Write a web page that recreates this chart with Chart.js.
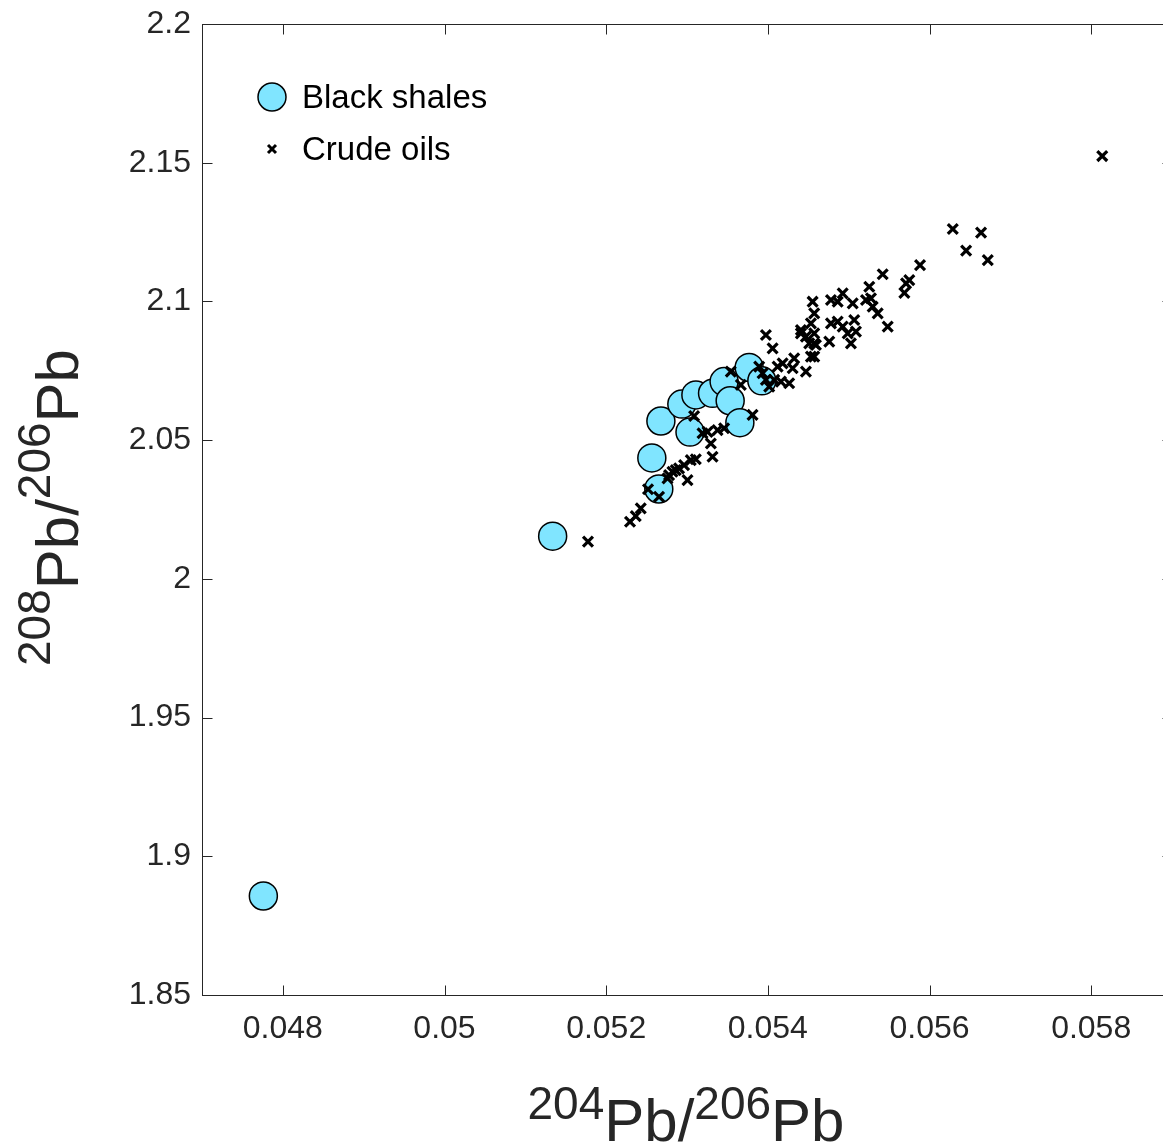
<!DOCTYPE html>
<html>
<head>
<meta charset="utf-8">
<script src="https://cdn.jsdelivr.net/npm/chart.js@4"></script>
<style>
  html, body { margin: 0; padding: 0; background: #fff; overflow: hidden; }
  #wrap { width: 1174px; height: 1148px; }
</style>
</head>
<body>
<div id="wrap"><canvas id="pbChart" width="1174" height="1148"></canvas></div>
<script>
// Black shales
const shaleX = [0.047759, 0.051338, 0.052651, 0.052565, 0.052677, 0.053037, 0.052936, 0.05311, 0.053316, 0.053459, 0.053534, 0.053654, 0.053769, 0.053926];
const shaleY = [1.8857, 2.0154, 2.0324, 2.0436, 2.0569, 2.0529, 2.0630, 2.0663, 2.0669, 2.0711, 2.0642, 2.0563, 2.0762, 2.0714];

// Crude oils
const oilX = [0.051775, 0.052295, 0.052366, 0.052428, 0.052518, 0.052654, 0.052759, 0.052778, 0.05282, 0.052861,
  0.052902, 0.052964, 0.053006, 0.053047, 0.053109, 0.053192, 0.053254, 0.053295, 0.053316, 0.053378,
  0.053459, 0.053088, 0.053976, 0.054059, 0.053542, 0.053666, 0.053893, 0.053935, 0.053976, 0.054017,
  0.054079, 0.054121, 0.054183, 0.054326, 0.054307, 0.054162, 0.054264, 0.054471, 0.053811, 0.054409,
  0.054574, 0.054533, 0.054554, 0.054781, 0.054926, 0.054864, 0.05505, 0.055255, 0.055214, 0.055297,
  0.055359, 0.055483, 0.054574, 0.054533, 0.054409, 0.054471, 0.054574, 0.054512, 0.054595, 0.054574,
  0.054781, 0.054864, 0.054926, 0.055069, 0.054988, 0.05509, 0.055028, 0.05476, 0.056288, 0.056638,
  0.056453, 0.056721, 0.055883, 0.055421, 0.05575, 0.05571, 0.055689, 0.055276, 0.058137];
const oilY = [2.0134, 2.0206, 2.0226, 2.0254, 2.0323, 2.0296, 2.0362, 2.0374, 2.0386, 2.0392,
  2.0398, 2.0410, 2.0356, 2.0428, 2.0431, 2.0525, 2.0530, 2.0488, 2.0440, 2.0536,
  2.0543, 2.0587, 2.0879, 2.0831, 2.0747, 2.0699, 2.0765, 2.0741, 2.0717, 2.0693,
  2.0717, 2.0765, 2.0777, 2.0795, 2.0759, 2.0711, 2.0705, 2.0747, 2.0591, 2.0885,
  2.0849, 2.0801, 2.0999, 2.1005, 2.1029, 2.0999, 2.0993, 2.1053, 2.1005, 2.0981,
  2.0957, 2.0909, 2.0957, 2.0921, 2.0897, 2.0873, 2.0885, 2.0849, 2.0843, 2.0801,
  2.0921, 2.0927, 2.0909, 2.0933, 2.0885, 2.0891, 2.0849, 2.0855, 2.1261, 2.1248,
  2.1183, 2.1149, 2.1131, 2.1098, 2.1077, 2.1065, 2.1031, 2.1011, 2.1524];

const xTicks = [0.048, 0.05, 0.052, 0.054, 0.056, 0.058];
const yTicks = [1.85, 1.9, 1.95, 2, 2.05, 2.1, 2.15, 2.2];

const seriesNames = ["Black shales", "Crude oils"];
const shaleColor = "#80E5FF";
const axisColor = "#262626";
const fontFam = "'Liberation Sans', Arial, Helvetica, sans-serif";

const toPoints = (xs, ys) => xs.map((x, i) => ({ x: x, y: ys[i] }));

// box, inward ticks, legend and axis titles
const decorPlugin = {
  id: "decor",
  afterDraw(chart) {
    const ctx = chart.ctx;
    const a = chart.chartArea;
    const xs = chart.scales.x, ys = chart.scales.y;
    const L = Math.round(a.left) + 0.5, R = Math.round(a.right) + 0.5;
    const T = Math.round(a.top) + 0.5, B = Math.round(a.bottom) + 0.5;
    ctx.save();
    ctx.strokeStyle = axisColor;
    ctx.lineWidth = 1;
    ctx.strokeRect(L, T, R - L, B - T);
    const tl = 10;
    ctx.beginPath();
    xTicks.forEach(v => {
      const px = Math.round(xs.getPixelForValue(v)) + 0.5;
      ctx.moveTo(px, B); ctx.lineTo(px, B - tl);
      ctx.moveTo(px, T); ctx.lineTo(px, T + tl);
    });
    yTicks.forEach(v => {
      const py = Math.round(ys.getPixelForValue(v)) + 0.5;
      ctx.moveTo(L, py); ctx.lineTo(L + tl, py);
      ctx.moveTo(R, py); ctx.lineTo(R - tl, py);
    });
    ctx.stroke();

    // legend
    ctx.fillStyle = shaleColor;
    ctx.strokeStyle = "#000";
    ctx.lineWidth = 1.5;
    ctx.beginPath();
    ctx.arc(272, 97, 14, 0, Math.PI * 2);
    ctx.fill();
    ctx.stroke();
    ctx.lineWidth = 3;
    ctx.beginPath();
    ctx.moveTo(268, 145); ctx.lineTo(276, 153);
    ctx.moveTo(276, 145); ctx.lineTo(268, 153);
    ctx.stroke();
    ctx.fillStyle = "#000";
    ctx.font = "33px " + fontFam;
    ctx.textAlign = "left";
    ctx.textBaseline = "alphabetic";
    ctx.fillText(seriesNames[0], 302, 108);
    ctx.fillText(seriesNames[1], 302, 160);

    // axis titles with superscripts
    const drawIso = (parts, cx, base, rise) => {
      let total = 0;
      parts.forEach(p => {
        ctx.font = (p.sup ? "46px " : "60px ") + fontFam;
        p.w = ctx.measureText(p.t).width;
        total += p.w;
      });
      let x = cx - total / 2;
      parts.forEach(p => {
        ctx.font = (p.sup ? "46px " : "60px ") + fontFam;
        ctx.fillText(p.t, x, p.sup ? base - rise : base);
        x += p.w;
      });
    };
    ctx.fillStyle = axisColor;
    drawIso([{ t: "204", sup: true }, { t: "Pb/" }, { t: "206", sup: true }, { t: "Pb" }],
      686, 1141, 22);
    ctx.save();
    ctx.translate(78, (a.top + a.bottom) / 2 - 2);
    ctx.rotate(-Math.PI / 2);
    drawIso([{ t: "208", sup: true }, { t: "Pb/" }, { t: "206", sup: true }, { t: "Pb" }], 0, 0, 28);
    ctx.restore();
    ctx.restore();
  }
};

const ctx = document.getElementById("pbChart").getContext("2d");
new Chart(ctx, {
  type: "scatter",
  data: {
    datasets: [
      {
        label: seriesNames[0],
        data: toPoints(shaleX, shaleY),
        pointStyle: "circle",
        pointRadius: 14,
        pointHoverRadius: 14,
        backgroundColor: shaleColor,
        borderColor: "#000",
        borderWidth: 1.5,
        order: 1
      },
      {
        label: seriesNames[1],
        data: toPoints(oilX, oilY),
        pointStyle: "crossRot",
        pointRadius: 7,
        pointHoverRadius: 7,
        borderColor: "#000",
        borderWidth: 3.2,
        order: 0
      }
    ]
  },
  options: {
    responsive: false,
    animation: false,
    devicePixelRatio: 1,
    layout: { autoPadding: false, padding: { top: 24, right: 2, left: 0, bottom: 0 } },
    plugins: {
      legend: { display: false },
      tooltip: { enabled: false }
    },
    scales: {
      x: {
        type: "linear",
        min: 0.047,
        max: 0.059,
        grid: { display: false, drawTicks: false },
        border: { display: false },
        afterBuildTicks: axis => { axis.ticks = xTicks.map(v => ({ value: v })); },
        afterFit: axis => {
          axis.height = 153;
          axis.paddingLeft = 0;
          axis.paddingRight = 0;
        },
        ticks: {
          color: axisColor,
          padding: 15,
          maxRotation: 0,
          font: { size: 32, family: fontFam },
          callback: v => String(v)
        }
      },
      y: {
        type: "linear",
        min: 1.85,
        max: 2.2,
        grid: { display: false, drawTicks: false },
        border: { display: false },
        afterBuildTicks: axis => { axis.ticks = yTicks.map(v => ({ value: v })); },
        afterFit: axis => {
          axis.width = 202;
          axis.paddingTop = 0;
          axis.paddingBottom = 0;
        },
        ticks: {
          color: axisColor,
          padding: 11,
          font: { size: 32, family: fontFam },
          callback: v => String(v)
        }
      }
    }
  },
  plugins: [decorPlugin]
});
</script>
</body>
</html>
